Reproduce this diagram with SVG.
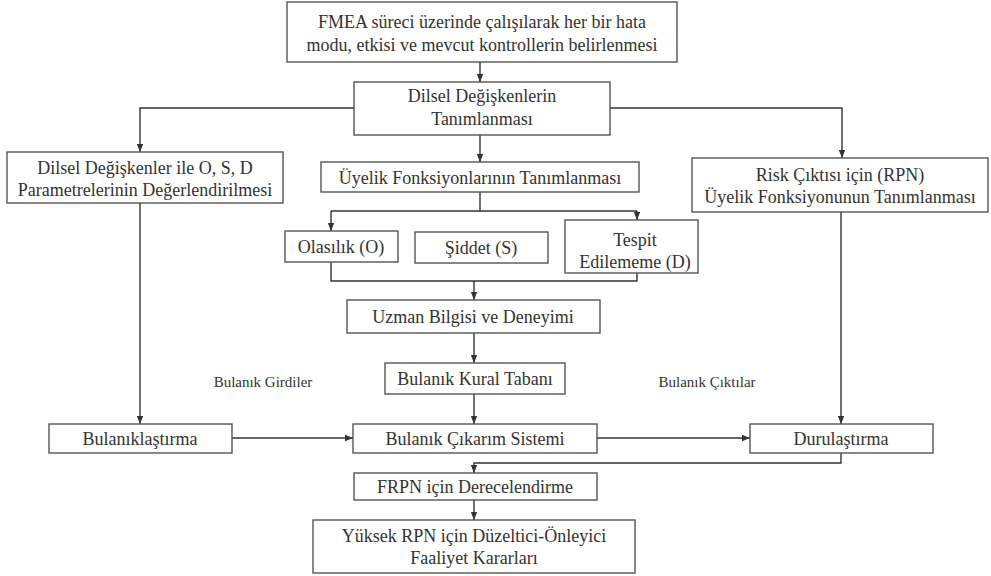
<svg xmlns="http://www.w3.org/2000/svg" width="991" height="576" viewBox="0 0 991 576">
<style>
.box{fill:#fff;stroke:#555;stroke-width:1.4}
.t{font-family:"Liberation Serif","Times New Roman",serif;font-size:18px;fill:#333;text-anchor:middle}
.s{font-family:"Liberation Serif","Times New Roman",serif;font-size:15px;fill:#333;text-anchor:middle}
.c{fill:none;stroke:#333;stroke-width:1.4}
</style>
<defs>
<marker id="ah" markerUnits="userSpaceOnUse" markerWidth="8" markerHeight="8" viewBox="0 0 8 8" refX="8" refY="4" orient="auto">
<path d="M0,0.8 L8,4 L0,7.2 Z" fill="#333"/>
</marker>
</defs>
<rect width="991" height="576" fill="#fff"/>
<g id="connectors">
<path class="c" d="M480,62 V82" marker-end="url(#ah)"/>
<path class="c" d="M354,108 H140 V152" marker-end="url(#ah)"/>
<path class="c" d="M610,108 H842 V158" marker-end="url(#ah)"/>
<path class="c" d="M480,135 V162" marker-end="url(#ah)"/>
<path class="c" d="M480,192 V211"/>
<path class="c" d="M331,211 H637"/>
<path class="c" d="M331,211 V231" marker-end="url(#ah)"/>
<path class="c" d="M637,211 V220" marker-end="url(#ah)"/>
<path class="c" d="M331,262 V281 H637 V273"/>
<path class="c" d="M474,281 V300" marker-end="url(#ah)"/>
<path class="c" d="M474,333 V363" marker-end="url(#ah)"/>
<path class="c" d="M474,394 V424" marker-end="url(#ah)"/>
<path class="c" d="M140,203 V424" marker-end="url(#ah)"/>
<path class="c" d="M841,212 V424" marker-end="url(#ah)"/>
<path class="c" d="M232,438 H353" marker-end="url(#ah)"/>
<path class="c" d="M597,438 H750" marker-end="url(#ah)"/>
<path class="c" d="M841,453 V463 H474 V473" marker-end="url(#ah)"/>
<path class="c" d="M474,500 V520" marker-end="url(#ah)"/>
</g>
<g id="n-fmea">
<rect class="box" x="287" y="2" width="390" height="60"/>
<text class="t" x="482" y="28">FMEA süreci üzerinde çalışılarak her bir hata</text>
<text class="t" x="482" y="51">modu, etkisi ve mevcut kontrollerin belirlenmesi</text>
</g>
<g id="n-dilsel">
<rect class="box" x="354" y="82" width="256" height="53"/>
<text class="t" x="482" y="102">Dilsel Değişkenlerin</text>
<text class="t" x="482" y="125">Tanımlanması</text>
</g>
<g id="n-osd">
<rect class="box" x="7" y="152" width="276" height="51"/>
<text class="t" x="145" y="174">Dilsel Değişkenler ile O, S, D</text>
<text class="t" x="145" y="196">Parametrelerinin Değerlendirilmesi</text>
</g>
<g id="n-risk">
<rect class="box" x="692" y="158" width="296" height="54"/>
<text class="t" x="840" y="181">Risk Çıktısı için (RPN)</text>
<text class="t" x="840" y="203">Üyelik Fonksiyonunun Tanımlanması</text>
</g>
<g id="n-uyelik">
<rect class="box" x="321" y="162" width="318" height="30"/>
<text class="t" x="480" y="184">Üyelik Fonksiyonlarının Tanımlanması</text>
</g>
<g id="n-olasilik">
<rect class="box" x="285" y="231" width="113" height="31"/>
<text class="t" x="341" y="253">Olasılık (O)</text>
</g>
<g id="n-siddet">
<rect class="box" x="415" y="232" width="133" height="31"/>
<text class="t" x="481" y="254">Şiddet (S)</text>
</g>
<g id="n-tespit">
<rect class="box" x="565" y="220" width="133" height="53"/>
<text class="t" x="635" y="246">Tespit</text>
<text class="t" x="635" y="268">Edilememe (D)</text>
</g>
<g id="n-uzman">
<rect class="box" x="347" y="300" width="253" height="33"/>
<text class="t" x="473" y="323">Uzman Bilgisi ve Deneyimi</text>
</g>
<g id="n-kural">
<rect class="box" x="385" y="363" width="180" height="31"/>
<text class="t" x="475" y="385">Bulanık Kural Tabanı</text>
</g>
<g id="n-girdiler">
<text class="s" x="263" y="387">Bulanık Girdiler</text>
</g>
<g id="n-ciktilar">
<text class="s" x="707" y="387">Bulanık Çıktılar</text>
</g>
<g id="n-bulaniklastirma">
<rect class="box" x="49" y="424" width="183" height="29"/>
<text class="t" x="140" y="445">Bulanıklaştırma</text>
</g>
<g id="n-cikarim">
<rect class="box" x="353" y="424" width="244" height="29"/>
<text class="t" x="475" y="445">Bulanık Çıkarım Sistemi</text>
</g>
<g id="n-durulastirma">
<rect class="box" x="750" y="424" width="183" height="29"/>
<text class="t" x="841" y="445">Durulaştırma</text>
</g>
<g id="n-frpn">
<rect class="box" x="354" y="473" width="243" height="27"/>
<text class="t" x="475" y="493">FRPN için Derecelendirme</text>
</g>
<g id="n-yuksek">
<rect class="box" x="313" y="520" width="322" height="53"/>
<text class="t" x="474" y="542">Yüksek RPN için Düzeltici-Önleyici</text>
<text class="t" x="474" y="564">Faaliyet Kararları</text>
</g>
</svg>
